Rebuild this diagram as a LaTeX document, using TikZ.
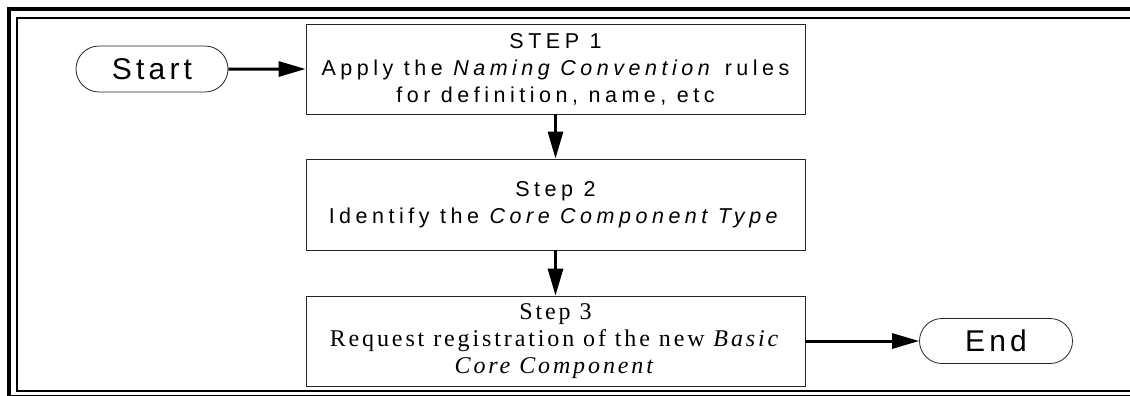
\documentclass[tikz,border=0pt]{standalone}
\usepackage{fontspec}
\usetikzlibrary{arrows.meta}
\usetikzlibrary{shapes.misc}

\newfontfamily\termfont[LetterSpace=14]{Liberation Sans}
\newfontfamily\stepsans[LetterSpace=21]{Liberation Sans}
\newfontfamily\stepserif[LetterSpace=12]{Liberation Serif}

\tikzset{
  terminal/.style={draw=black!85, line width=0.8bp, rounded rectangle,
    minimum width=152bp, minimum height=46bp, inner sep=0pt,
    font=\termfont\fontsize{30bp}{32bp}\selectfont},
  stepbox/.style={draw=black!85, line width=0.8bp, rectangle,
    minimum width=499bp, minimum height=90bp, inner sep=0pt, align=center},
  sanstext/.style={font=\stepsans\fontsize{21.5bp}{27bp}\selectfont},
  seriftext/.style={font=\stepserif\fontsize{24bp}{27bp}\selectfont},
  flow/.style={line width=3bp, -{Triangle[length=27bp,width=15bp]}}
}

\begin{document}
\begin{tikzpicture}[x=1bp,y=-1bp]
  \useasboundingbox (0,0) rectangle (1130,395);
  \clip (0,0) rectangle (1130,395);
  % double frame, open to the right and bottom
  \draw[line width=3.7bp] (9.2,9.2) rectangle (1150,397);
  \draw[line width=2bp] (16.7,18.3) rectangle (1150,391);

  % terminals and steps
  \node[terminal] (start) at (152,69) {Start};
  \node[stepbox, sanstext] (step1) at (555.5,69)
    {STEP 1\\Apply the \textit{Naming Convention} rules\\for definition, name, etc};
  \node[stepbox, sanstext, minimum height=91bp] (step2) at (555.5,204.5)
    {Step 2\\Identify the \textit{Core Component Type}};
  \node[stepbox, seriftext] (step3) at (555.5,341)
    {Step 3\\Request registration of the new \textit{Basic}\\\textit{Core Component}};
  \node[terminal, minimum width=153bp, minimum height=45bp] (end) at (996,341) {End};

  % flow
  \draw[flow] (start) -- (step1);
  \draw[flow] (step1) -- (step2);
  \draw[flow] (step2) -- (step3);
  \draw[flow] (step3) -- (end);
\end{tikzpicture}
\end{document}
